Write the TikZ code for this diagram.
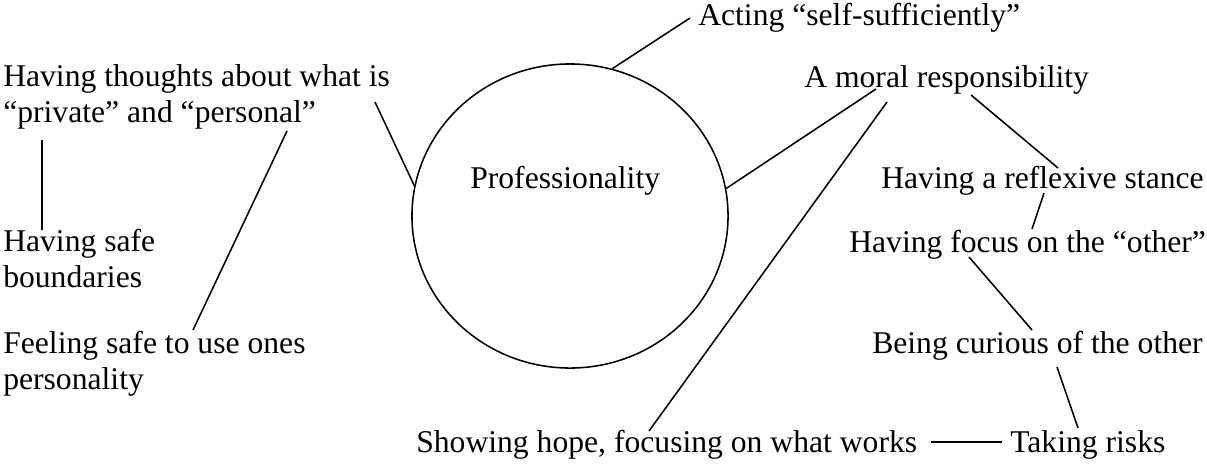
\documentclass[tikz,border=0pt]{standalone}
\usepackage{fontspec}
\setmainfont{Liberation Serif}
\usetikzlibrary{shapes.geometric}

\tikzset{
  lbl/.style={anchor=base west,inner sep=0pt,align=left,
    font=\fontsize{22.5pt}{25.5pt}\selectfont},
  tie/.style={line width=1.1pt}
}

\begin{document}
\begin{tikzpicture}[x=0.025cm,y=-0.025cm]
  \useasboundingbox (0,0) rectangle (1207,463);
  %%%%%%%%%%%%%The core%%%%%%%%%%%%%%%%%%%%%%
  \node[draw,ellipse,line width=1.1pt,minimum width=7.9cm,minimum height=7.6cm,inner sep=0pt] (prof) at (570,216) {};
  \node[lbl] (proftext) at (470,188) {Professionality};

  %%%%%%%%%%%%%The left side (base = last line)%%%%%%%%%%%%%%%%%%%%%%
  \node[lbl] (thoughts) at (3,122) {Having thoughts about what is\\``private'' and ``personal''};
  \node[lbl] (bound) at (3,287) {Having safe\\boundaries};
  \node[lbl] (person) at (3,389) {Feeling safe to use ones\\personality};

  %%%%%%%%%%%%%The right side%%%%%%%%%%%%%%%%%%%%%%
  \node[lbl] (act) at (698,25) {Acting ``self-sufficiently''};
  \node[lbl] (moral) at (804,87) {A moral responsibility};
  \node[lbl] (reflex) at (881,188) {Having a reflexive stance};
  \node[lbl] (focus) at (849,252) {Having focus on the ``other''};
  \node[lbl] (curious) at (872,353) {Being curious of the other};
  \node[lbl] (hope) at (416,452) {Showing hope, focusing on what works};
  \node[lbl] (risks) at (1010,452) {Taking risks};

  %%%%%%%%%%%%%The ties%%%%%%%%%%%%%%%%%%%%%%
  \draw[tie] (prof.74.6) -- ([shift={(-8,-7)}]act.base west);
  \draw[tie] ([shift={(372,-20)}]thoughts.base west) -- (prof.169.6);
  \draw[tie] ([shift={(39,18)}]thoughts.base west) -- ([shift={(39,-57)}]bound.base west);
  \draw[tie] ([shift={(284,9)}]thoughts.base west) -- ([shift={(190,-59)}]person.base west);
  \draw[tie] (prof.10.4) -- ([shift={(72,2)}]moral.base west);
  \draw[tie] ([shift={(83,15)}]moral.base west) -- ([shift={(233,-21)}]hope.base west);
  \draw[tie] ([shift={(167,8)}]moral.base west) -- ([shift={(177,-20)}]reflex.base west);
  \draw[tie] ([shift={(163,5)}]reflex.base west) -- ([shift={(183,-23)}]focus.base west);
  \draw[tie] ([shift={(120,5)}]focus.base west) -- ([shift={(160,-23)}]curious.base west);
  \draw[tie] ([shift={(185,14)}]curious.base west) -- ([shift={(68,-24)}]risks.base west);
  \draw[tie] ([shift={(515,-10)}]hope.base west) -- ([shift={(-8,-10)}]risks.base west);
\end{tikzpicture}
\end{document}
